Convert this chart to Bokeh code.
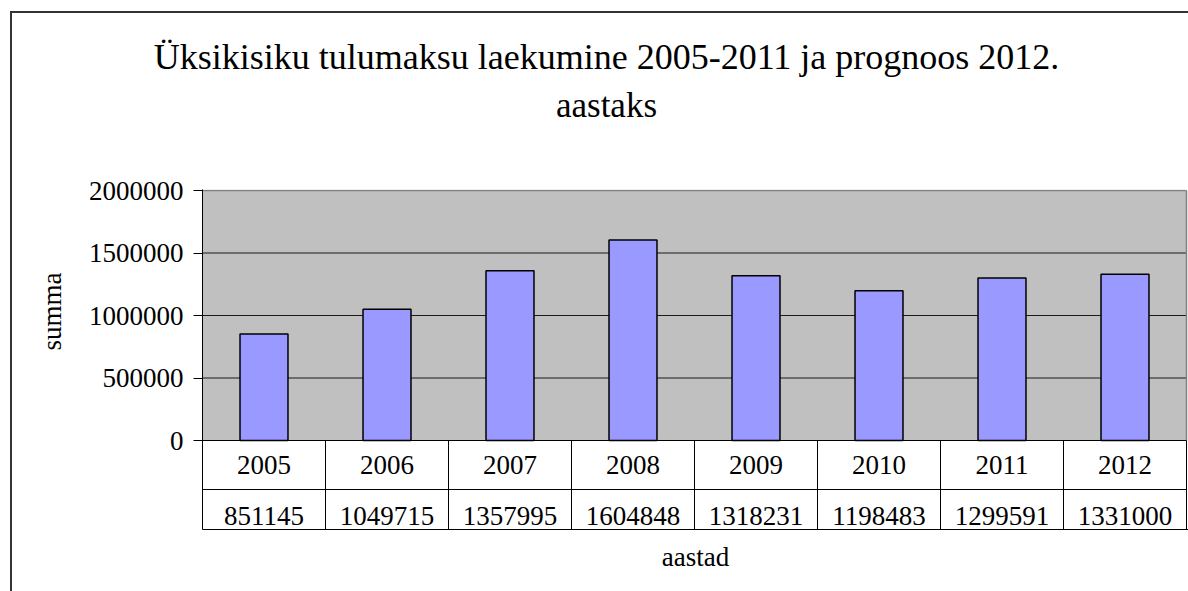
import math
from bokeh.plotting import figure
from bokeh.models import (Range1d, FixedTicker, NumeralTickFormatter, LinearAxis,
                          ColumnDataSource)
from bokeh.core.properties import value
from bokeh.embed import file_html
from bokeh.resources import INLINE

# ---- data ----
years = ["2005", "2006", "2007", "2008", "2009", "2010", "2011", "2012"]
amounts = [851145, 1049715, 1357995, 1604848, 1318231, 1198483, 1299591, 1331000]
y_ticks = [0, 500000, 1000000, 1500000, 2000000]
title_line1 = "Üksikisiku tulumaksu laekumine 2005-2011 ja prognoos 2012."
title_line2 = "aastaks"
y_label = "summa"
x_label = "aastad"

FONT = "Liberation Serif"
n = len(years)
ymax = y_ticks[-1]
px = 8000.0  # data units per pixel on y

border_css = {
    "background-image": "linear-gradient(#333,#333), linear-gradient(#333,#333)",
    "background-size": "2px 100%, 100% 2px",
    "background-position": "10px 11px, 10px 11px",
    "background-repeat": "no-repeat",
}

p = figure(width=1188, height=591, output_backend="svg", toolbar_location=None,
           x_range=Range1d(0, n * 986 / 984), y_range=Range1d(-712000, ymax + px),
           min_border_left=202, min_border_right=0, min_border_top=189,
           min_border_bottom=62, styles=border_css)
p.outline_line_color = None
p.xgrid.visible = False
p.ygrid.visible = False
p.background_fill_color = "white"
p.border_fill_alpha = 0

# y axis
ax = p.yaxis[0]
ax.ticker = FixedTicker(ticks=y_ticks)
ax.formatter = NumeralTickFormatter(format="0")
ax.major_label_text_font = FONT
ax.major_label_text_font_size = "27px"
ax.major_label_text_color = "black"
ax.major_tick_out = 9
ax.major_tick_in = 0
ax.minor_tick_line_color = None
ax.axis_line_color = "black"
ax.major_tick_line_color = "black"
ax.major_label_standoff = 10

# y axis title, placed beside the plot area
ypos = 1344000.0
sax = LinearAxis(ticker=FixedTicker(ticks=[ypos]),
                 major_label_overrides={ypos: y_label},
                 major_label_orientation=math.pi / 2,
                 axis_line_color=None, major_tick_line_color=None,
                 minor_tick_line_color=None, major_tick_out=0, major_tick_in=0,
                 major_label_standoff=34, major_label_text_font=FONT,
                 major_label_text_font_size="27px", major_label_text_color="black")
p.add_layout(sax, "left")

# x axis: bottom line of the table and the axis title
xax = p.xaxis[0]
xax.ticker = FixedTicker(ticks=[])
xax.axis_line_color = "black"
xax.major_tick_line_color = None
xax.minor_tick_line_color = None
xax.axis_label = x_label
xax.axis_label_text_font = FONT
xax.axis_label_text_font_size = "27px"
xax.axis_label_text_font_style = "normal"
xax.axis_label_text_color = "black"
xax.axis_label_standoff = 12

# chart title (two lines) as labels of axes above the plot
tx = (606 - 202) / 123.0
for txt, so, fs in [(title_line2, 65, "35px"), (title_line1, 6, "36px")]:
    tax = LinearAxis(ticker=FixedTicker(ticks=[tx]),
                     major_label_overrides={tx: txt},
                     axis_line_color=None, major_tick_line_color=None,
                     minor_tick_line_color=None, major_tick_out=0, major_tick_in=0,
                     major_label_standoff=so, major_label_text_font=FONT,
                     major_label_text_font_size=fs, major_label_text_color="black")
    p.add_layout(tax, "above")

# plot area
p.quad(left=[0], right=[n], bottom=[0], top=[ymax], fill_color="#C0C0C0",
       line_color=None)
gl = y_ticks[1:-1]
p.segment(x0=[0] * len(gl), x1=[n] * len(gl), y0=gl, y1=gl, line_color="#1a1a1a",
          line_width=1)
p.segment(x0=[0, n], x1=[n, n], y0=[ymax, 0], y1=[ymax, ymax],
          line_color="#808080", line_width=1.5)

# bars
xs = [i + 0.5 for i in range(n)]
src = ColumnDataSource(dict(x=xs, top=amounts, year=years,
                            amt=[str(a) for a in amounts]))
p.vbar(x="x", top="top", bottom=0, width=0.39, source=src,
       fill_color="#9999FF", line_color="black", line_width=1.5)

# data table
row_div = -392000
tab_bot = -712000
p.segment(x0=[0, 0], x1=[n, n], y0=[0, row_div], y1=[0, row_div],
          line_color="black", line_width=1)
vx = list(range(1, n + 1))
p.segment(x0=vx, x1=vx, y0=[0] * len(vx), y1=[tab_bot] * len(vx),
          line_color="black", line_width=1)
p.text(x="x", y=-192000, text="year", source=src, text_align="center",
       text_baseline="middle", text_font=value(FONT), text_font_size="27px",
       text_color="black")
p.text(x="x", y=-600000, text="amt", source=src, text_align="center",
       text_baseline="middle", text_font=value(FONT), text_font_size="27px",
       text_color="black")

open("out.html", "w").write(file_html(p, INLINE))
